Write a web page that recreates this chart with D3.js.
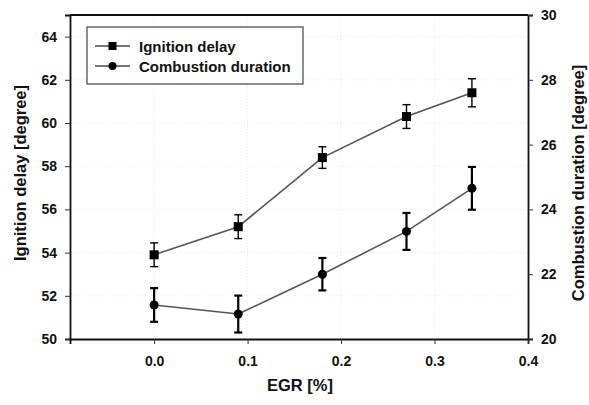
<!DOCTYPE html>
<html>
<head>
<meta charset="utf-8">
<script src="https://cdn.jsdelivr.net/npm/d3@7"></script>
<style>
  body { margin: 0; background: #fff; overflow: hidden; }
  svg { display: block; }
  svg text { font-family: "Liberation Sans", Arial, sans-serif; font-weight: bold; fill: #111; }
</style>
</head>
<body>
<svg id="chart" width="589" height="405"></svg>
<script>
// data
const egr = [0.0, 0.09, 0.18, 0.27, 0.34];
const ignitionDelay = [53.9, 55.2, 58.4, 60.3, 61.4];
const ignitionErr = [0.55, 0.55, 0.5, 0.55, 0.65];
const combustionDuration = [21.05, 20.77, 22.0, 23.32, 24.65];
const combustionErr = [0.52, 0.57, 0.5, 0.57, 0.66];

const xTicks = [0.0, 0.1, 0.2, 0.3, 0.4];
const leftTicks = [50, 52, 54, 56, 58, 60, 62, 64];
const rightTicks = [20, 22, 24, 26, 28, 30];

const svg = d3.select("#chart");
const margin = { top: 15, right: 61, bottom: 66, left: 70 };
const width = 589, height = 405;
const innerWidth = width - margin.left - margin.right;
const innerHeight = height - margin.top - margin.bottom;

const xScale = d3.scaleLinear().domain([-0.09, 0.4]).range([0, innerWidth]);
const yLeft = d3.scaleLinear().domain([50, 65]).range([innerHeight, 0]);
const yRight = d3.scaleLinear().domain([20, 30]).range([innerHeight, 0]);

const g = svg.append("g").attr("transform", `translate(${margin.left},${margin.top})`);

// faint dotted grid
g.selectAll(".hgrid").data(leftTicks.slice(1)).enter().append("line")
  .attr("x1", 0).attr("x2", innerWidth)
  .attr("y1", d => yLeft(d)).attr("y2", d => yLeft(d))
  .attr("stroke", "#ebebeb").attr("stroke-dasharray", "1,2");
g.selectAll(".vgrid").data(xTicks.slice(0, 4)).enter().append("line")
  .attr("y1", 0).attr("y2", innerHeight)
  .attr("x1", d => xScale(d)).attr("x2", d => xScale(d))
  .attr("stroke", "#ebebeb").attr("stroke-dasharray", "1,2");

// axes
const xAxis = g.append("g").attr("transform", `translate(0,${innerHeight})`)
  .call(d3.axisBottom(xScale).tickValues(xTicks).tickFormat(d3.format(".1f")).tickSizeOuter(0).tickSize(5).tickPadding(12));
const lAxis = g.append("g")
  .call(d3.axisLeft(yLeft).tickValues(leftTicks).tickSizeOuter(0).tickSize(5).tickPadding(8));
const rAxis = g.append("g").attr("transform", `translate(${innerWidth},0)`)
  .call(d3.axisRight(yRight).tickValues(rightTicks).tickSizeOuter(0).tickSize(5).tickPadding(8));

[xAxis, lAxis, rAxis].forEach(a => {
  a.attr("font-size", 14).attr("font-family", null);
  a.selectAll("text").style("font-size", "14px");
  a.select(".domain").attr("stroke", "#111").attr("stroke-width", 1.8);
  a.selectAll(".tick line").attr("stroke", "#333").attr("stroke-width", 1);
});

// top border
g.append("line").attr("x1", 0).attr("x2", innerWidth).attr("y1", 0).attr("y2", 0)
  .attr("stroke", "#111").attr("stroke-width", 1.8);

// series
const ign = egr.map((x, i) => ({ x, y: ignitionDelay[i], e: ignitionErr[i] }));
const comb = egr.map((x, i) => ({ x, y: combustionDuration[i], e: combustionErr[i] }));

const drawSeries = (data, yScale, errWidth, marker) => {
  g.append("path").datum(data)
    .attr("fill", "none").attr("stroke", "#555").attr("stroke-width", 1.6)
    .attr("d", d3.line().x(d => xScale(d.x)).y(d => yScale(d.y)));
  const eb = g.append("g").selectAll("g").data(data).enter().append("g")
    .attr("stroke", "#000").attr("stroke-width", errWidth);
  eb.append("line").attr("x1", d => xScale(d.x)).attr("x2", d => xScale(d.x))
    .attr("y1", d => yScale(d.y - d.e)).attr("y2", d => yScale(d.y + d.e));
  eb.append("line").attr("x1", d => xScale(d.x) - 4).attr("x2", d => xScale(d.x) + 4)
    .attr("y1", d => yScale(d.y - d.e)).attr("y2", d => yScale(d.y - d.e));
  eb.append("line").attr("x1", d => xScale(d.x) - 4).attr("x2", d => xScale(d.x) + 4)
    .attr("y1", d => yScale(d.y + d.e)).attr("y2", d => yScale(d.y + d.e));
  if (marker === "square") {
    g.selectAll(null).data(data).enter().append("rect")
      .attr("x", d => xScale(d.x) - 4.5).attr("y", d => yScale(d.y) - 4.5)
      .attr("width", 9).attr("height", 9).attr("fill", "#000");
  } else {
    g.selectAll(null).data(data).enter().append("circle")
      .attr("cx", d => xScale(d.x)).attr("cy", d => yScale(d.y))
      .attr("r", 4.5).attr("fill", "#000");
  }
};
drawSeries(ign, yLeft, 1.4, "square");
drawSeries(comb, yRight, 2.2, "circle");

// legend
const legend = svg.append("g").attr("transform", "translate(87,27)");
legend.append("rect").attr("width", 216).attr("height", 57)
  .attr("fill", "#fff").attr("stroke", "#444").attr("stroke-width", 1.2);
const legendItems = [
  { label: "Ignition delay", marker: "square" },
  { label: "Combustion duration", marker: "circle" }
];
legendItems.forEach((it, i) => {
  const row = legend.append("g").attr("transform", `translate(0,${19 + i * 20})`);
  row.append("line").attr("x1", 8).attr("x2", 43).attr("stroke", "#444").attr("stroke-width", 1.5);
  if (it.marker === "square") {
    row.append("rect").attr("x", 21.5).attr("y", -4).attr("width", 8).attr("height", 8).attr("fill", "#000");
  } else {
    row.append("circle").attr("cx", 25.5).attr("r", 4).attr("fill", "#000");
  }
  row.append("text").attr("x", 52).attr("y", 5.5).style("font-size", "15px").text(it.label);
});

// axis titles
svg.append("text").attr("text-anchor", "middle").style("font-size", "16.5px")
  .attr("transform", "translate(26,173) rotate(-90)").text("Ignition delay [degree]");
svg.append("text").attr("text-anchor", "middle").style("font-size", "16.5px")
  .attr("transform", "translate(584,183) rotate(-90)").text("Combustion duration [degree]");
svg.append("text").attr("text-anchor", "middle").style("font-size", "16.5px")
  .attr("x", 300).attr("y", 391).text("EGR [%]");
</script>
</body>
</html>
